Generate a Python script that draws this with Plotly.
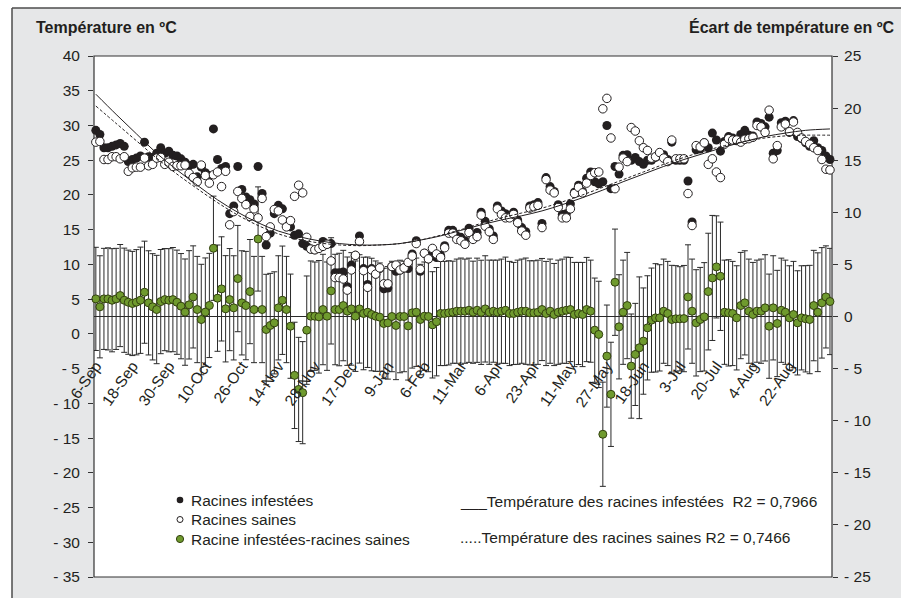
import plotly.graph_objects as go

# ---------------- data ----------------
tick_labels = ["6-Sep", "18-Sep", "30-Sep", "10-Oct", "26-Oct", "14-Nov", "28-Nov",
               "17-Dec", "9-Jan", "6-Feb", "11-Mar", "6-Apr", "23-Apr", "11-May",
               "27-May", "18-Jun", "3-Jul", "20-Jul", "4-Aug", "22-Aug"]
tick_index = list(range(0, 172, 9))

infested = [
    29.3, 28.7, 26.8, 26.8, 27.0, 27.2, 27.4, 27.0, 24.8, 25.1, 25.3, 25.6, 27.6, 25.5, 25.4, 26.0, 26.8, 26.0,
    26.3, 25.7, 25.6, 25.2, 24.7, 24.2, 24.4, 22.6, 24.0, 23.2, 22.8, 29.5, 25.1, 23.8, 24.1, 17.3, 18.4, 24.1,
    20.8, 19.7, 19.3, 18.7, 24.1, 20.2, 12.8, 14.5, 17.3, 18.5, 18.0, 16.1, 15.4, 14.2, 14.4, 13.0, 12.6, 12.2,
    12.1, 12.3, 13.3, 12.9, 13.0, 8.8, 8.8, 8.9, 6.8, 9.9, 11.3, 14.1, 9.4, 7.1, 9.4, 8.6, 9.4, 6.5,
    6.6, 9.7, 9.0, 9.2, 9.5, 9.4, 11.5, 13.4, 9.0, 11.6, 10.8, 11.5, 11.0, 11.3, 12.7, 14.9, 14.9, 14.1,
    13.9, 13.4, 15.2, 14.0, 14.6, 17.5, 16.2, 15.1, 14.1, 18.4, 17.7, 17.3, 17.0, 17.5, 16.4, 15.3, 14.7, 18.4,
    18.6, 18.9, 15.9, 22.5, 21.2, 20.5, 18.6, 17.2, 17.3, 18.7, 20.4, 21.4, 20.5, 22.4, 23.3, 21.9, 21.6,
    21.9, 30.0, 20.9, 24.1, 23.0, 25.7, 25.8, 25.0, 25.4, 24.8, 24.4, 25.0, 25.0, 25.4, 26.0, 25.8, 25.1,
    27.6, 25.0, 25.0, 25.0,
    22.0, 16.1, 26.5, 26.6, 27.5, 26.8, 28.9, 27.9, 26.3, 27.7, 28.4, 28.2, 27.8, 28.7, 29.3, 28.6, 28.5, 30.5,
    30.3, 29.8, 31.2, 26.0, 26.4, 30.4, 30.6, 29.0, 30.7, 28.4, 28.1, 27.5, 27.0, 27.8, 26.8, 26.4, 25.6, 25.1,
]

healthy = [
    27.6, 27.7, 25.1, 25.1, 25.5, 25.5, 25.2, 25.5, 23.4, 23.9, 24.0, 24.0, 25.3, 24.2, 24.4, 25.3, 25.4, 24.4,
    24.7, 24.1, 24.2, 24.2, 24.3, 23.1, 22.5, 21.9, 24.3, 22.8, 21.7, 22.9, 23.3, 21.2, 23.4, 15.7, 17.6, 20.5,
    19.5, 18.6, 16.9, 18.0, 16.7, 19.5, 14.0, 15.4, 17.9, 17.7, 16.4, 15.4, 16.3, 19.8, 21.4, 20.3, 13.9, 12.2,
    12.1, 12.3, 12.6, 12.9, 10.5, 8.1, 8.1, 7.9, 6.3, 9.2, 11.3, 13.3, 9.1, 6.7, 9.2, 8.6, 9.5, 7.2,
    7.2, 9.7, 9.9, 9.2, 9.5, 10.3, 11.2, 13.0, 9.3, 11.6, 10.8, 12.3, 11.5, 11.0, 12.4, 14.5, 14.5, 13.6,
    13.4, 12.9, 14.6, 13.6, 14.0, 17.1, 15.5, 14.7, 13.6, 18.0, 17.2, 16.7, 16.7, 17.2, 16.0, 14.8, 14.2, 18.1,
    18.3, 18.5, 15.3, 22.2, 20.7, 20.3, 18.2, 16.7, 16.7, 18.0, 20.2, 21.1, 20.3, 21.7, 22.8, 23.2, 23.3,
    32.4, 33.9, 28.2, 20.9, 24.0, 25.3, 24.8, 29.7, 29.2, 27.8, 26.8, 26.4, 25.3, 25.5, 26.1, 25.3, 24.8,
    27.9, 25.2, 25.2, 25.2,
    20.2, 15.6, 27.1, 26.9, 27.5, 24.4, 25.2, 23.3, 22.5, 27.3, 28.1, 27.9, 27.9, 27.6, 28.0, 28.1, 28.3, 30.0,
    29.8, 29.0, 32.2, 25.2, 27.1, 29.8, 30.2, 29.1, 30.5, 29.0, 28.2, 27.7, 27.3, 26.8, 26.4, 25.1, 23.7, 23.6,
]

difference = [
    1.69, 0.93, 1.69, 1.69, 1.56, 1.69, 2.01, 1.56, 1.37, 1.25, 1.37, 1.56, 2.33, 1.31, 0.93, 0.67, 1.43, 1.62,
    1.56, 1.62, 1.37, 0.99, 0.42, 1.12, 1.88, 0.67, -0.29, 0.42, 1.06, 6.55, 1.76, 2.65, 0.74, 1.62, 0.83, 3.64,
    1.31, 1.05, 2.39, 0.67, 7.44, 0.67, -1.25, -0.86, -0.61, 0.83, 1.56, 0.67, -0.93, -5.65, -7.0, -7.31,
    -1.31, 0.03, 0.03, -0.03, 0.67, 0.03, 2.46, 0.67, 0.67, 1.05, 0.51, 0.73, 0.03, 0.73, 0.29, 0.41, 0.19,
    0.03, -0.06, -0.67,
    -0.61, 0.0, -0.86, 0.0, 0.0, -0.9, 0.35, 0.41, -0.29, 0.03, 0.0, -0.8, -0.5, 0.29, 0.29, 0.35, 0.41, 0.51,
    0.51, 0.51, 0.6, 0.41, 0.6, 0.4, 0.73, 0.41, 0.51, 0.41, 0.51, 0.6, 0.29, 0.29, 0.41, 0.51, 0.51, 0.35,
    0.35, 0.41, 0.67, 0.29, 0.51, 0.19, 0.41, 0.51, 0.6, 0.67, 0.19, 0.29, 0.19, 0.67, 0.51, -1.31, -1.72,
    -11.3, -3.8, -7.47, 3.29, -0.99, 0.41, 1.05, -4.76, -3.64, -3.0, -2.36, -1.09, -0.35, -0.13, -0.13, 0.51,
    0.29, -0.29, -0.22, -0.22, -0.2,
    1.88, 0.51, -0.61, -0.29, -0.03, 2.39, 3.7, 4.76, 3.86, 0.41, 0.35, 0.29, -0.13, 1.05, 1.31, 0.51, 0.19,
    0.51, 0.51, 0.83, -0.93, 0.83, -0.67, 0.6, 0.41, -0.13, 0.19, -0.61, -0.13, -0.22, -0.29, 1.05, 0.41,
    1.31, 1.88, 1.44,
]

difference_err = [
    4.95, 4.9, 4.85, 4.9, 4.95, 4.85, 4.9, 5.0, 5.0, 5.0, 5.05, 5.1, 4.9, 5.0, 5.1, 5.2, 5.0, 4.9,
    4.95, 5.0, 5.0, 5.05, 5.1, 5.2, 4.9, 5.1, 5.3, 5.2, 5.0, 5.0, 5.1, 5.0, 5.1, 4.9, 5.0, 5.1,
    5.0, 5.2, 5.0, 5.1, 5.0, 5.1, 5.3, 5.0, 4.9, 5.0, 5.2, 5.1, 5.0, 5.1, 5.0, 4.9, 5.2, 5.3,
    5.2, 5.4, 5.3, 5.2, 5.1, 5.3, 5.4, 5.3, 5.2, 5.4, 5.3, 5.2, 5.4, 5.3, 5.4, 5.3, 5.2, 5.3,
    5.4, 5.3, 5.2, 5.4, 5.3, 5.2, 5.3, 5.2, 5.3, 5.2, 5.3, 5.1, 5.2, 5.0, 5.0, 5.0, 4.9, 5.0,
    5.1, 5.0, 5.0, 4.9, 5.0, 5.0, 5.1, 5.0, 4.9, 5.0, 5.0, 5.1, 5.0, 4.9, 5.0, 5.0, 5.1, 5.0,
    5.0, 5.0, 4.9, 5.0, 5.0, 4.9, 5.0, 5.0, 5.1, 5.0, 5.0, 4.9, 5.0, 5.0, 4.9, 5.0, 5.1, 5.0,
    4.9, 5.0, 5.1, 5.0, 5.0, 5.1, 5.0, 4.9, 6.8, 5.1, 5.0, 5.0, 5.2, 5.1, 5.0, 5.0, 5.2, 5.1,
    5.0, 5.1,
    5.0, 5.0, 5.1, 5.0, 5.2, 5.6, 6.0, 4.9, 5.2, 5.0, 5.1, 5.0, 5.0, 5.1, 5.0, 5.0, 5.0, 4.9,
    5.0, 5.1, 5.0, 5.0, 5.1, 5.0, 5.0, 5.0, 5.1, 5.0, 5.0, 5.1, 5.2, 5.3, 5.7, 5.3, 4.9, 5.1,
]

trend_index = [0, 5, 10, 15, 20, 25, 30, 35, 40, 45, 50, 55, 60, 65, 70, 75, 80, 85, 90, 95, 100,
               105, 110, 115, 120, 125, 130, 135, 140, 145, 150, 155, 160, 165, 170, 175, 181]
trend_infested = [34.5, 31.6, 28.8, 26.0, 23.6, 21.4, 19.3, 17.5, 16.0, 14.8, 14.0, 13.4, 13.0, 12.8,
                  12.8, 13.0, 13.5, 14.1, 14.9, 15.7, 16.4, 17.0, 17.7, 18.6, 19.6, 20.7, 21.9, 23.0,
                  24.1, 25.1, 26.0, 26.9, 27.7, 28.4, 28.9, 29.3, 29.5]
trend_healthy = [32.8, 30.3, 27.8, 25.3, 23.0, 20.9, 18.9, 17.1, 15.6, 14.4, 13.6, 13.1, 12.8, 12.7,
                 12.8, 13.0, 13.5, 14.2, 15.0, 15.9, 16.7, 17.4, 18.1, 19.0, 20.0, 21.1, 22.2, 23.3,
                 24.4, 25.4, 26.3, 27.1, 27.7, 28.2, 28.5, 28.6, 28.6]

left_ticks = list(range(-35, 41, 5))
right_ticks = list(range(-25, 26, 5))

# ---------------- helpers (pixel -> paper) ----------------
L, R, T, B = 94, 832, 56, 577
W, H = R - L, B - T


def px(x):
    return (x - L) / W


def py(y):
    return (B - y) / H


def lab(v):
    return f"- {abs(v)}" if v < 0 else str(v)


INK = "#231f20"
GREEN = "#6f9a2e"
FONT = "Liberation Sans, Arial, Helvetica, sans-serif"

x_idx = list(range(len(infested)))

fig = go.Figure()

# difference with error bars (right scale, primary axis -> drawn below)
fig.add_trace(go.Scatter(
    x=x_idx, y=difference, yaxis="y", mode="markers", name="Racine infestées-racines saines",
    marker=dict(size=8, color=GREEN, line=dict(color="#33410f", width=1)),
    error_y=dict(type="data", array=difference_err, visible=True, color="#2a2a2a",
                 thickness=1, width=3),
    cliponaxis=False,
))
fig.add_trace(go.Scatter(
    x=x_idx, y=infested, yaxis="y2", mode="markers", name="Racines infestées",
    marker=dict(size=9, color=INK, line=dict(width=0)), cliponaxis=False,
))
fig.add_trace(go.Scatter(
    x=x_idx, y=healthy, yaxis="y2", mode="markers", name="Racines saines",
    marker=dict(size=8.5, color="white", line=dict(color=INK, width=1)), cliponaxis=False,
))
fig.add_trace(go.Scatter(
    x=trend_index, y=trend_infested, yaxis="y2", mode="lines",
    line=dict(color=INK, width=1, shape="spline"), cliponaxis=False,
))
fig.add_trace(go.Scatter(
    x=trend_index, y=trend_healthy, yaxis="y2", mode="lines",
    line=dict(color=INK, width=1, dash="3px,2px", shape="spline"), cliponaxis=False,
))

shapes = [
    # white outside strips
    dict(type="rect", xref="paper", yref="paper", x0=px(-20), x1=px(12), y0=py(620), y1=py(-20),
         fillcolor="white", line=dict(width=0), layer="below"),
    dict(type="rect", xref="paper", yref="paper", x0=px(-20), x1=px(920), y0=py(8), y1=py(-20),
         fillcolor="white", line=dict(width=0), layer="below"),
    # box border
    dict(type="line", xref="paper", yref="paper", x0=px(12), x1=px(12), y0=py(8), y1=py(620),
         line=dict(color="#4d4d4d", width=1.5)),
    dict(type="line", xref="paper", yref="paper", x0=px(12), x1=px(920), y0=py(8), y1=py(8),
         line=dict(color="#4d4d4d", width=1.5)),
    # plot frame
    dict(type="rect", xref="paper", yref="paper", x0=0, x1=1, y0=0, y1=1,
         line=dict(color="#333333", width=1.2), layer="below"),
]

# legend markers
leg_y = [500, 519.5, 539]
shapes.append(dict(type="circle", xref="paper", yref="paper", xsizemode="pixel", ysizemode="pixel",
                   xanchor=px(180), yanchor=py(leg_y[0]), x0=-3.3, x1=3.3, y0=-3.3, y1=3.3,
                   fillcolor=INK, line=dict(width=0)))
shapes.append(dict(type="circle", xref="paper", yref="paper", xsizemode="pixel", ysizemode="pixel",
                   xanchor=px(180), yanchor=py(leg_y[1]), x0=-3, x1=3, y0=-3, y1=3,
                   fillcolor="white", line=dict(color=INK, width=1)))
shapes.append(dict(type="circle", xref="paper", yref="paper", xsizemode="pixel", ysizemode="pixel",
                   xanchor=px(180), yanchor=py(leg_y[2]), x0=-3.6, x1=3.6, y0=-3.6, y1=3.6,
                   fillcolor=GREEN, line=dict(color="#33410f", width=1)))

annotations = [
    dict(text="<b>Température en ºC</b>", xref="paper", yref="paper", x=px(34), y=py(27),
         xanchor="left", yanchor="middle", showarrow=False, font=dict(size=16, color=INK)),
    dict(text="<b>Écart de température en ºC</b>", xref="paper", yref="paper", x=px(896), y=py(27),
         xanchor="right", yanchor="middle", showarrow=False, font=dict(size=16, color=INK)),
]
for txt, yy in zip(["Racines infestées", "Racines saines", "Racine infestées-racines saines"], leg_y):
    annotations.append(dict(text=txt, xref="paper", yref="paper", x=px(189), y=py(yy),
                            xanchor="left", yanchor="middle", showarrow=False,
                            font=dict(size=15.5, color=INK)))
annotations.append(dict(text="___Température des racines infestées  R2 = 0,7966", xref="paper",
                        yref="paper", x=px(458), y=py(501), xanchor="left", yanchor="middle",
                        showarrow=False, font=dict(size=15.5, color=INK)))
annotations.append(dict(text=".....Température des racines saines R2 = 0,7466", xref="paper",
                        yref="paper", x=px(458), y=py(537), xanchor="left", yanchor="middle",
                        showarrow=False, font=dict(size=15.5, color=INK)))

fig.update_layout(
    width=901, height=598,
    margin=dict(l=L, r=901 - R, t=T, b=598 - B, autoexpand=False),
    paper_bgcolor="#e6e7e8", plot_bgcolor="white",
    showlegend=False,
    font=dict(family=FONT, size=15.5, color=INK),
    xaxis=dict(range=[-0.45, 181.5], tickmode="array", tickvals=tick_index, ticktext=tick_labels,
               tickangle=-55, anchor="free", position=0.43, showline=False, showgrid=False,
               zeroline=False, ticks="", tickfont=dict(size=15.5, color=INK)),
    yaxis=dict(range=[-25, 25], side="right", tickmode="array", tickvals=right_ticks,
               ticktext=[lab(v) for v in right_ticks], ticks="outside", ticklen=5,
               tickcolor="#333333", showgrid=False, zeroline=True, zerolinecolor="#2a2a2a",
               zerolinewidth=1, showline=False, ticklabelstandoff=3, automargin=False),
    yaxis2=dict(range=[-35, 40], overlaying="y", side="left", tickmode="array", tickvals=left_ticks,
                ticktext=[lab(v) for v in left_ticks], ticks="outside", ticklen=5,
                tickcolor="#333333", showgrid=False, zeroline=False, showline=False,
                ticklabelstandoff=5, automargin=False),
    shapes=shapes,
    annotations=annotations,
)

fig.write_html("out.html")
